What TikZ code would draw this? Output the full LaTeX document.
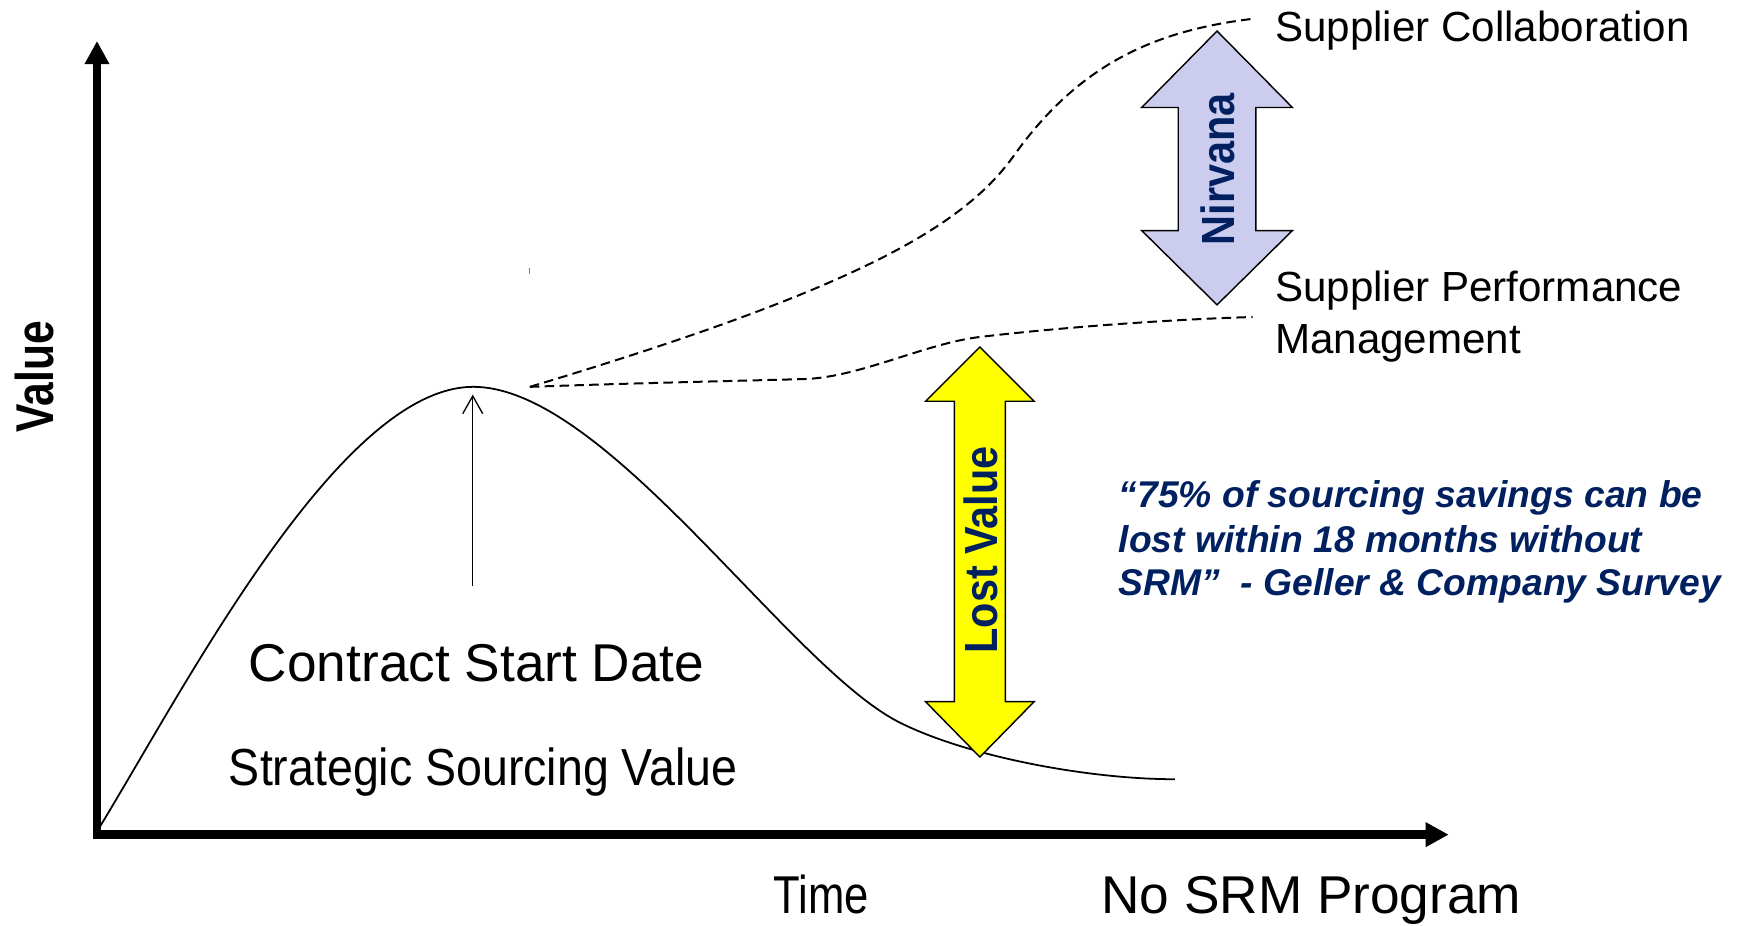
\documentclass[tikz,border=0pt]{standalone}
\usepackage{fontspec}
\usepackage{graphicx}
\setmainfont{Liberation Sans}
\usetikzlibrary{arrows.meta}
\definecolor{navy}{RGB}{0,32,96}
\definecolor{lav}{RGB}{204,204,238}
\definecolor{yel}{RGB}{255,255,0}
\definecolor{tick}{RGB}{110,110,255}
\tikzset{
  axisline/.style={line width=3.75pt, line join=miter,
    {Triangle[length=10.4pt,width=10.5pt]}-{Triangle[length=10.4pt,width=10.5pt]}},
  curveline/.style={line width=0.8pt},
  dashcurve/.style={line width=0.9pt, dash pattern=on 4.3pt off 2.4pt},
  bigarrow/.style={draw=black, line width=0.65pt, line join=miter},
  biglbl/.style={inner sep=0pt, font=\fontsize{24}{28}\selectfont},
  sidelbl/.style={inner sep=0pt, font=\fontsize{19}{23}\selectfont, anchor=base west},
  arrowlbl/.style={inner sep=0pt, rotate=90, text=navy, font=\bfseries\fontsize{21}{25}\selectfont},
  quotelbl/.style={inner sep=0pt, anchor=base west, text=navy, font=\bfseries\itshape\fontsize{16.8}{20}\selectfont},
}
\begin{document}
\begin{tikzpicture}[x=0.5pt,y=-0.5pt]
\useasboundingbox (0,0) rectangle (1568,835);
% axes
\coordinate (Ytip) at (87.5,37);
\coordinate (O) at (87.5,753);
\coordinate (Xtip) at (1307,753);
\draw[axisline] (Ytip) -- (O) -- (Xtip);
\node[inner sep=0pt, rotate=90, font=\bfseries\fontsize{24}{28}\selectfont] (val) at (31.5,340) {\scalebox{0.8}[1]{Value}};

% main curve
\coordinate (c0) at (90,746);
\coordinate (peak) at (427,349);
\coordinate (c2) at (812,652);
\coordinate (c3) at (1060,703);
\draw[curveline] (c0) .. controls (168,618) and (307,349) .. (peak)
  .. controls (547,349) and (712,602) .. (c2)
  .. controls (872,682) and (980,703) .. (c3);

% dashed curves
\coordinate (ds) at (478,349);
\coordinate (u1) at (915,140);
\coordinate (uend) at (1130,17);
\draw[dashcurve] (ds) .. controls (778,259) and (870,203) .. (u1)
  .. controls (973,59) and (1040,27.8) .. (uend);
\coordinate (l1) at (725,342);
\coordinate (l2) at (884,304);
\coordinate (lend) at (1130,286);
\draw[dashcurve] (ds) .. controls (560,346) and (650,344) .. (l1)
  .. controls (775,340.7) and (834,310) .. (l2)
  .. controls (930,298.5) and (1030,289) .. (lend);
\coordinate (tk1) at (478,242);
\coordinate (tk2) at (478,247);
\draw[tick, line width=0.5pt] (tk1) -- (tk2);

% contract start arrow
\coordinate (csdtop) at (426.5,356);
\coordinate (csdbot) at (426.5,529);
\draw[line width=0.6pt, -{Straight Barb[length=8pt,width=9pt]}] (csdbot) -- (csdtop);
\node[biglbl, anchor=base] (csd) at (430,615) {Contract Start Date};
\node[biglbl, anchor=base, font=\fontsize{23.5}{28}\selectfont] (ssv) at (436,709) {\scalebox{0.893}[1]{Strategic Sourcing Value}};

% Lost value arrow
\draw[bigarrow, fill=yel] (884,313) -- (933,362) -- (907,362) -- (907,633) -- (933,633)
  -- (884,683) -- (835,633) -- (861,633) -- (861,362) -- (835,362) -- cycle;
\node[arrowlbl] (lost) at (885,496) {\scalebox{0.89}[1]{Lost Value}};

% Nirvana arrow
\draw[bigarrow, fill=lav] (1098,28) -- (1166,97) -- (1133,97) -- (1133,208) -- (1166,208)
  -- (1098,275) -- (1030,208) -- (1063,208) -- (1063,97) -- (1030,97) -- cycle;
\node[arrowlbl] (nirv) at (1099,152.5) {\scalebox{0.89}[1]{Nirvana}};

% side labels
\node[sidelbl] (sc) at (1150,37) {Supplier Collaboration};
\node[sidelbl] (spm1) at (1150,272) {Supplier Performance};
\node[sidelbl] (spm2) at (1150,319) {Management};

% quote
\node[quotelbl] (q1) at (1009,458) {“75\% of sourcing savings can be};
\node[quotelbl] (q2) at (1009,498) {lost within 18 months without};
\node[quotelbl] (q3) at (1009,537) {SRM”\ \ - Geller \& Company Survey};

% time labels
\node[biglbl, anchor=base] (time) at (741,824) {\scalebox{0.82}[1]{Time}};
\node[biglbl, anchor=base] (nosrm) at (1183,824) {No SRM Program};
\end{tikzpicture}
\end{document}
